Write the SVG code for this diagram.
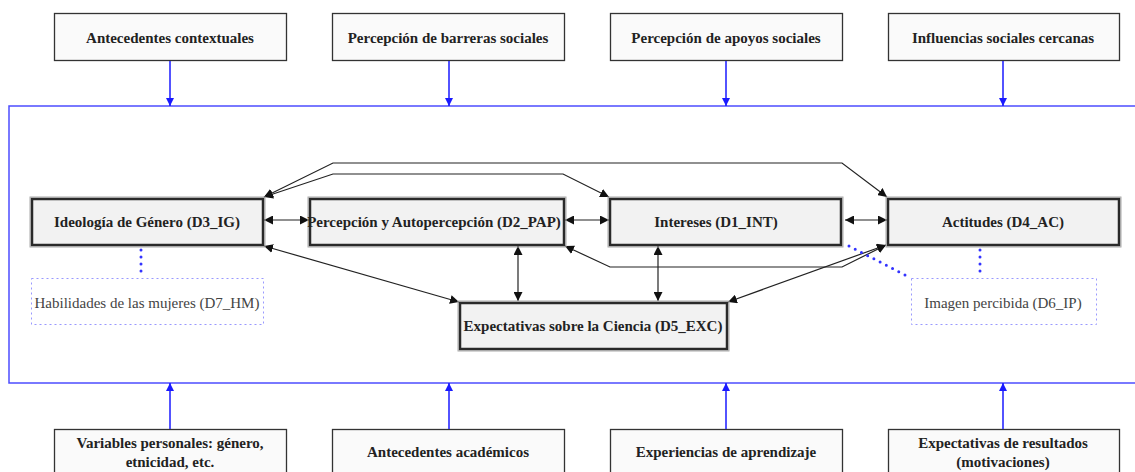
<svg xmlns="http://www.w3.org/2000/svg" width="1135" height="472" viewBox="0 0 1135 472">
<style>
.outer{fill:#fafafa;stroke:#333;stroke-width:1.3}
.node{fill:#f2f2f2;stroke:#2a2a2a;stroke-width:2.5}
.halo{fill:none;stroke:#aaa;stroke-width:1}
.dot{fill:#fff;stroke:#99f;stroke-width:1;stroke-dasharray:2 3}
.t{font-weight:bold;font-size:15px;fill:#222;text-anchor:middle}
.tn{font-weight:bold;font-size:15px;fill:#222;text-anchor:middle}
.tl{font-size:15px;fill:#444;text-anchor:middle}
.blue{stroke:#1a1aff;stroke-width:1.5;fill:none}
.k{stroke:#222;stroke-width:1.2;fill:none}
.bd{stroke:#3333ff;stroke-width:3;fill:none;stroke-dasharray:0 7;stroke-linecap:round}
</style>
<defs>
<marker id="ab" viewBox="0 0 10 10" refX="10" refY="5" markerWidth="8" markerHeight="8" markerUnits="userSpaceOnUse" orient="auto"><path d="M0,0 L10,5 L0,10 z" fill="#1a1aff"/></marker>
<marker id="ak" viewBox="0 0 10 10" refX="10" refY="5" markerWidth="9" markerHeight="9" markerUnits="userSpaceOnUse" orient="auto-start-reverse"><path d="M0,0 L10,5 L0,10 z" fill="#111"/></marker>
</defs>
<rect width="1135" height="472" fill="#fff"/>
<g id="container"><path d="M1140,106 L9,106 L9,383 L1140,383" fill="none" stroke="#4d4dff" stroke-width="1.5"/></g>
<g font-family="'Liberation Serif', 'Times New Roman', 'DejaVu Serif', serif">
<g id="top-contextuales"><rect class="outer" x="54.5" y="13.5" width="232" height="47"/><text class="t" x="170" y="43">Antecedentes contextuales</text></g>
<g id="top-barreras"><rect class="outer" x="332.5" y="13.5" width="232" height="47"/><text class="t" x="448" y="43">Percepción de barreras sociales</text></g>
<g id="top-apoyos"><rect class="outer" x="610.5" y="13.5" width="232" height="47"/><text class="t" x="726" y="43">Percepción de apoyos sociales</text></g>
<g id="top-influencias"><rect class="outer" x="888.5" y="13.5" width="231" height="47"/><text class="t" x="1003" y="43">Influencias sociales cercanas</text></g>
<g id="bot-personales"><rect class="outer" x="54.5" y="429.5" width="232" height="50"/><text class="t" x="170" y="448">Variables personales: género,</text><text class="t" x="170" y="467">etnicidad, etc.</text></g>
<g id="bot-academicos"><rect class="outer" x="332.5" y="429.5" width="232" height="50"/><text class="t" x="448" y="457">Antecedentes académicos</text></g>
<g id="bot-experiencias"><rect class="outer" x="610.5" y="429.5" width="232" height="50"/><text class="t" x="726" y="457">Experiencias de aprendizaje</text></g>
<g id="bot-expectativas"><rect class="outer" x="888.5" y="429.5" width="231" height="50"/><text class="t" x="1003" y="448">Expectativas de resultados</text><text class="t" x="1003" y="467">(motivaciones)</text></g>
<g id="connectors">
<line class="blue" x1="170" y1="61" x2="170" y2="106" marker-end="url(#ab)"/>
<line class="blue" x1="449" y1="61" x2="449" y2="106" marker-end="url(#ab)"/>
<line class="blue" x1="726" y1="61" x2="726" y2="106" marker-end="url(#ab)"/>
<line class="blue" x1="1003" y1="61" x2="1003" y2="106" marker-end="url(#ab)"/>
<line class="blue" x1="170" y1="429" x2="170" y2="383" marker-end="url(#ab)"/>
<line class="blue" x1="449" y1="429" x2="449" y2="383" marker-end="url(#ab)"/>
<line class="blue" x1="726" y1="429" x2="726" y2="383" marker-end="url(#ab)"/>
<line class="blue" x1="1003" y1="429" x2="1003" y2="383" marker-end="url(#ab)"/>
<path class="k" d="M264,197 L333,163 L842,163 L887,197" marker-start="url(#ak)" marker-end="url(#ak)"/>
<path class="k" d="M264,197 L333,174 L563,174 L609,197" marker-start="url(#ak)" marker-end="url(#ak)"/>
<line class="k" x1="264" y1="220" x2="309" y2="220" marker-start="url(#ak)" marker-end="url(#ak)"/>
<line class="k" x1="565" y1="220" x2="609" y2="220" marker-start="url(#ak)" marker-end="url(#ak)"/>
<line class="k" x1="845" y1="220" x2="887" y2="220" marker-start="url(#ak)" marker-end="url(#ak)"/>
<line class="k" x1="264" y1="246" x2="459" y2="302" marker-start="url(#ak)" marker-end="url(#ak)"/>
<line class="k" x1="518" y1="246" x2="518" y2="301" marker-start="url(#ak)" marker-end="url(#ak)"/>
<line class="k" x1="658" y1="246" x2="658" y2="301" marker-start="url(#ak)" marker-end="url(#ak)"/>
<line class="k" x1="886" y1="245" x2="728" y2="302" marker-start="url(#ak)" marker-end="url(#ak)"/>
<path class="k" d="M565,246 L610,267 L842,267 L886,245" marker-start="url(#ak)" marker-end="url(#ak)"/>
<line class="bd" x1="141" y1="250" x2="141" y2="278"/>
<line class="bd" x1="980" y1="250" x2="980" y2="278"/>
<line class="bd" x1="849" y1="246" x2="911" y2="278"/>
</g>
<g id="D3_IG"><rect class="halo" x="30" y="197" width="235" height="50"/><rect class="node" x="32" y="199" width="231" height="46"/><text class="tn" x="147" y="227">Ideología de Género (D3_IG)</text></g>
<g id="D2_PAP"><rect class="halo" x="308" y="197" width="258" height="50"/><rect class="node" x="310" y="199" width="254" height="46"/><text class="tn" x="434" y="227">Percepción y Autopercepción (D2_PAP)</text></g>
<g id="D1_INT"><rect class="halo" x="608" y="197" width="235" height="50"/><rect class="node" x="610" y="199" width="231" height="46"/><text class="tn" x="716" y="227">Intereses (D1_INT)</text></g>
<g id="D4_AC"><rect class="halo" x="886" y="197" width="235" height="50"/><rect class="node" x="888" y="199" width="231" height="46"/><text class="tn" x="1003" y="227">Actitudes (D4_AC)</text></g>
<g id="D5_EXC"><rect class="halo" x="458" y="301" width="271" height="50"/><rect class="node" x="460" y="303" width="267" height="46"/><text class="tn" x="593" y="331">Expectativas sobre la Ciencia (D5_EXC)</text></g>
<g id="D7_HM"><rect class="dot" x="31.5" y="278.5" width="232" height="46"/><text class="tl" x="147" y="308">Habilidades de las mujeres (D7_HM)</text></g>
<g id="D6_IP"><rect class="dot" x="911.5" y="278.5" width="185" height="46"/><text class="tl" x="1003" y="308">Imagen percibida (D6_IP)</text></g>
</g>
</svg>
